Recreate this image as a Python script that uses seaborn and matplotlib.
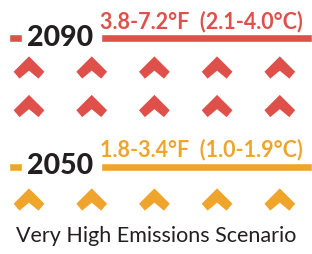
import matplotlib
matplotlib.use("Agg")
import matplotlib.pyplot as plt
import seaborn as sns
import pandas as pd

years = ["2090", "2050"]
ranges = ["3.8-7.2°F  (2.1-4.0°C)", "1.8-3.4°F  (1.0-1.9°C)"]
chevron_counts = [10, 5]
colors = ["#E0504B", "#EFA52B"]
caption = "Very High Emissions Scenario"

sns.set_theme(style="white")
plt.rcParams['font.family'] = ['Lato', 'DejaVu Sans']

fig = plt.figure(figsize=(3.12, 2.54), dpi=100)
ax = fig.add_axes([0, 0, 1, 1])

header_y = [38, 166.5]
first_row = [67.5, 199.5]
col_x0, col_dx, row_dy = 29, 62.7, 38.5

rows = []
for i, yr in enumerate(years):
    for k in range(chevron_counts[i]):
        rows.append({"year": yr,
                     "x": col_x0 + (k % 5) * col_dx,
                     "y": first_row[i] + (k // 5) * row_dy})
df = pd.DataFrame(rows)

chevron = [(0, 10.5), (14.5, -4.0), (9.0, -10.5), (0, -3.0),
           (-9.0, -10.5), (-14.5, -4.0), (0, 10.5)]
sns.scatterplot(data=df, x="x", y="y", hue="year",
                palette=dict(zip(years, colors)), marker=chevron,
                s=490, linewidth=0, legend=False, ax=ax)
ax.set_xlim(0, 312)
ax.set_ylim(254, 0)
ax.axis('off')

for i, yr in enumerate(years):
    hy = header_y[i]
    ax.barh(hy, 13, left=9, height=8, color=colors[i])
    ax.barh(hy, 211, left=101, height=8, color=colors[i])
    ax.text(27, hy + 7.5, yr, fontsize=20.5, fontweight='black',
            color="#231F20", va='baseline', ha='left')
    ax.text(100, hy - 10, ranges[i], fontsize=15.5, fontweight='bold',
            color=colors[i], va='baseline', ha='left')

ax.text(156, 242, caption, fontsize=15.5, color="#231F20",
        va='baseline', ha='center')

fig.savefig("out.png", dpi=100)
